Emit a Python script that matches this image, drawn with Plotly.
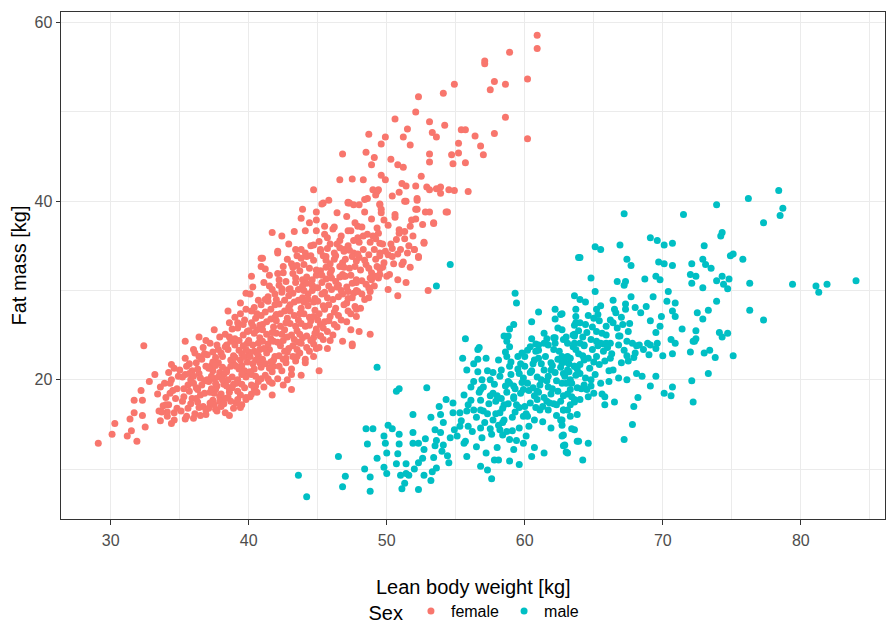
import plotly.graph_objects as go

# (lean body weight [kg], fat mass [kg]) pairs
female = [
    (29.1,12.9),(30.1,13.9),(30.3,15.1),(31.2,13.7),(31.9,13.1),(31.5,14.3),(31.4,15.6),(31.7,16.3),
    (32.3,16.0),(32.5,14.7),(31.7,17.7),(32.3,17.7),(32.2,18.8),(32.8,19.8),(32.4,23.8),(33.2,20.6),
    (33.4,18.4),(33.6,19.2),(33.5,16.5),(33.6,15.4),(34.1,15.9),(34.4,15.1),(34.6,16.3),(34.6,15.5),
    (33.8,17.1),(34.0,18.0),(34.3,18.5),(34.4,20.0),(34.4,21.7),(35.0,21.1),(35.4,20.6),(35.4,24.3),
    (35.7,21.8),(36.4,24.8),(36.0,23.4),(36.4,22.6),(35.4,15.6),(36.0,15.7),(36.9,16.1),(37.6,16.7),
    (38.6,16.0),(39.5,17.2),(39.8,17.8),(40.2,18.4),(40.5,19.3),(41.5,19.8),(41.7,18.3),(42.8,20.0),
    (43.1,18.9),(43.1,20.6),(43.8,20.5),(45.1,21.0),(44.1,21.9),(44.7,22.6),(44.7,24.7),(44.9,25.4),
    (45.9,24.4),(46.8,24.3),(47.5,23.8),(47.4,25.6),(47.8,27.1),(47.1,28.6),(47.2,29.9),(47.8,30.9),
    (46.9,31.6),(48.8,25.1),(45.7,23.5),(48.0,25.4),(47.5,24.0),(45.2,24.9),(47.8,27.9),(47.6,29.7),
    (48.8,29.9),(48.7,29.2),(48.9,31.2),(49.5,31.8),(50.0,31.6),(50.1,30.1),(49.5,32.4),(49.3,32.7),
    (50.8,31.2),(51.4,30.9),(50.8,29.4),(53.0,30.0),(52.7,35.4),(52.0,34.6),(52.3,33.8),(51.0,34.6),
    (51.7,32.6),(51.1,32.9),(53.4,37.6),(52.1,39.1),(52.8,38.8),(54.4,38.8),(45.4,39.8),(47.2,39.9),
    (47.6,39.6),(48.0,39.6),(48.6,40.3),(49.3,41.1),(49.2,40.7),(49.5,39.6),(51.4,40.0),(52.2,40.3),
    (46.8,45.3),(46.6,42.4),(47.5,42.5),(44.7,41.3),(45.8,40.1),(45.3,39.7),(43.9,39.1),(44.9,38.8),
    (43.8,38.1),(44.4,37.6),(44.9,37.9),(46.4,38.7),(47.2,39.8),(41.7,36.5),(42.4,36.1),(43.3,36.6),
    (44.1,36.7),(44.9,36.7),(45.5,37.2),(46.2,37.1),(47.2,36.7),(47.9,37.2),(42.9,35.2),(43.4,34.6),
    (44.7,35.1),(45.2,34.6),(45.7,35.9),(46.6,35.6),(46.9,34.6),(40.9,33.6),(42.1,34.2),(43.8,33.6),
    (45.6,33.8),
    (60.9,58.6),(60.9,57.1),(58.9,56.7),(57.1,55.7),(57.1,55.4),(57.8,53.4),(58.6,53.1),(57.5,52.5),
    (60.2,53.7),(54.9,53.1),(54.1,52.1),(52.3,51.7),(52.1,50.0),(58.6,49.4),(50.6,49.2),(53.1,48.9),
    (54.2,48.5),(51.5,48.1),(55.4,48.0),(55.7,48.0),(53.3,47.7),(53.6,47.2),(57.8,47.6),(56.4,47.3),
    (48.7,47.5),(49.9,47.2),(51.2,47.2),(60.2,47.0),(49.6,46.4),(51.7,46.3),(55.2,46.5),(56.8,46.2),
    (48.5,45.5),(53.1,45.3),(54.7,45.2),(55.2,45.4),(57.0,45.2),(49.1,44.9),(50.3,44.7),(48.9,44.1),
    (50.8,44.1),(51.2,43.8),(53.1,44.4),(54.8,44.2),(55.7,44.3),(49.6,42.9),(49.9,42.4),(52.5,42.8),
    (48.3,42.4),(49.0,41.3),(49.4,41.3),(51.1,42.0),(51.4,41.7),(50.4,40.6),(50.9,41.0),(52.1,41.7),
    (52.9,41.6),(53.1,41.3),(53.6,41.4),(53.9,41.6),(53.9,40.9),(54.5,41.3),(54.9,41.2),(55.9,41.1),
    (51.3,40.0),(52.2,40.1),(52.2,39.1),(54.3,38.8),(53.1,38.8),(52.1,38.0),(52.6,37.4),(53.4,37.5),
    (52.7,35.3),(52.3,33.7),(51.9,36.1),(52.0,34.6),(51.7,37.2),(48.4,40.2),(47.3,39.8),(49.5,39.7),
    (49.6,39.1),(50.6,38.5),(50.9,36.8),(50.7,35.7),(51.3,35.8),(50.4,34.7),(49.5,34.2),(50.1,34.0),
    (38.5,27.7),(39.4,28.6),(39.8,29.7),(40.3,30.4),(40.9,32.7),(41.0,33.6),(42.1,34.4),(40.2,31.6),
    (39.0,27.0),(37.5,25.6),(36.9,24.4),
]

female_core = [
    (34.2,17.2),(34.5,18.8),(34.8,16.8),(34.3,19.6),(34.9,20.4),(34.7,17.9),(34.1,16.4),(34.6,21.3),
    (35.1,16.5),(35.3,18.1),(35.6,19.4),(35.2,20.3),(35.8,17.3),(35.5,15.9),(35.9,21.0),(35.4,22.4),
    (35.7,18.7),(35.2,17.6),(35.8,20.0),(35.6,16.8),
    (36.1,16.2),(36.3,17.5),(36.5,18.3),(36.2,19.1),(36.8,19.9),(36.4,20.7),(36.9,21.5),(36.6,22.3),
    (36.1,23.0),(36.7,17.0),(36.3,18.9),(36.9,16.6),(36.5,20.2),(36.2,21.9),(36.8,18.5),(36.4,16.9),
    (36.7,23.6),(36.0,19.6),
    (37.1,16.8),(37.4,17.7),(37.2,18.6),(37.7,19.3),(37.5,20.1),(37.9,20.8),(37.3,21.6),(37.6,22.5),
    (37.8,23.4),(37.2,24.1),(37.5,17.2),(37.9,18.1),(37.1,19.8),(37.4,21.0),(37.8,21.9),(37.0,22.8),
    (37.6,18.9),(37.3,20.4),(37.7,16.5),(37.9,24.8),(37.4,23.1),(37.6,19.6),
    (38.0,17.0),(38.3,17.9),(38.6,18.6),(38.2,19.5),(38.8,20.3),(38.4,21.1),(38.9,21.8),(38.1,22.6),
    (38.5,23.4),(38.7,24.3),(38.3,25.1),(38.9,16.8),(38.6,19.0),(38.2,20.6),(38.7,22.2),(38.4,23.9),
    (38.0,18.4),(38.8,25.7),(38.5,20.0),(38.1,21.4),(38.9,19.5),(38.6,26.4),(38.3,16.3),
    (39.1,17.4),(39.4,18.3),(39.7,19.1),(39.2,20.0),(39.8,20.8),(39.5,21.6),(39.0,22.5),(39.3,23.3),
    (39.9,24.1),(39.6,25.0),(39.2,25.8),(39.7,26.7),(39.4,27.4),(39.8,18.0),(39.1,19.6),(39.5,22.9),
    (39.9,22.0),(39.3,21.2),(39.6,23.8),(39.0,24.6),(39.8,27.9),(39.4,16.9),(39.7,21.0),(39.2,26.4),
    (40.1,18.1),(40.4,19.0),(40.7,19.8),(40.2,20.6),(40.9,21.4),(40.5,22.2),(40.0,23.1),(40.3,23.9),
    (40.8,24.7),(40.6,25.6),(40.2,26.4),(40.9,27.2),(40.4,28.1),(40.7,28.9),(40.1,29.6),(40.6,18.6),
    (40.3,21.8),(40.8,23.4),(40.5,26.9),(40.0,24.4),(40.9,20.1),(40.4,25.2),(40.7,22.7),(40.2,27.7),
    (41.1,19.2),(41.4,20.1),(41.7,20.9),(41.2,21.8),(41.9,22.6),(41.5,23.4),(41.0,24.3),(41.3,25.1),
    (41.8,25.9),(41.6,26.8),(41.2,27.6),(41.9,28.4),(41.4,29.3),(41.7,30.1),(41.1,30.9),(41.5,31.7),
    (41.8,21.5),(41.3,23.0),(41.6,24.6),(41.0,26.2),(41.9,27.0),(41.4,28.8),(41.7,19.6),(41.2,32.4),
    (42.1,20.1),(42.4,21.0),(42.7,21.9),(42.2,22.7),(42.9,23.5),(42.5,24.4),(42.0,25.2),(42.3,26.0),
    (42.8,26.9),(42.6,27.7),(42.2,28.5),(42.9,29.4),(42.4,30.2),(42.7,31.0),(42.1,31.9),(42.5,32.7),
    (42.8,33.5),(42.3,23.8),(42.6,25.6),(42.0,27.3),(42.9,28.1),(42.4,29.8),(42.7,22.4),(42.2,30.6),
    (42.5,19.4),
    (43.1,21.2),(43.4,22.1),(43.7,23.0),(43.2,23.8),(43.9,24.7),(43.5,25.5),(43.0,26.3),(43.3,27.2),
    (43.8,28.0),(43.6,28.9),(43.2,29.7),(43.9,30.5),(43.4,31.4),(43.7,32.2),(43.1,33.0),(43.5,33.9),
    (43.8,34.6),(43.3,24.5),(43.6,26.7),(43.0,28.4),(43.9,29.2),(43.4,30.9),(43.7,25.1),(43.2,32.6),
    (43.5,22.6),
    (44.1,22.3),(44.4,23.2),(44.7,24.0),(44.2,24.9),(44.9,25.7),(44.5,26.6),(44.0,27.4),(44.3,28.3),
    (44.8,29.1),(44.6,30.0),(44.2,30.8),(44.9,31.7),(44.4,32.5),(44.7,33.4),(44.1,34.2),(44.5,35.0),
    (44.8,27.8),(44.3,29.6),(44.6,31.2),(44.0,32.9),(44.9,23.5),(44.4,26.1),(44.7,28.7),(44.2,33.8),
    (45.1,23.6),(45.4,24.5),(45.7,25.4),(45.2,26.2),(45.9,27.1),(45.5,27.9),(45.0,28.8),(45.3,29.6),
    (45.8,30.5),(45.6,31.3),(45.2,32.2),(45.9,33.0),(45.4,33.9),(45.7,34.7),(45.1,35.5),(45.5,36.3),
    (45.8,28.4),(45.3,30.9),(45.6,32.6),(45.0,26.7),(45.9,35.2),(45.4,25.8),
    (46.1,25.0),(46.4,25.9),(46.7,26.7),(46.2,27.6),(46.9,28.4),(46.5,29.3),(46.0,30.1),(46.3,31.0),
    (46.8,31.8),(46.6,32.7),(46.2,33.5),(46.9,34.4),(46.4,35.2),(46.7,36.1),(46.1,36.9),(46.5,30.6),
    (46.8,33.1),(46.3,28.0),(46.6,34.8),(46.0,32.3),
    (47.1,26.5),(47.4,27.4),(47.7,28.2),(47.2,29.1),(47.9,29.9),(47.5,30.8),(47.0,31.6),(47.3,32.5),
    (47.8,33.3),(47.6,34.2),(47.2,35.0),(47.9,35.9),(47.4,36.7),(47.7,37.6),(47.1,38.3),(47.5,33.8),
    (47.8,31.2),
    (48.1,28.0),(48.4,29.0),(48.7,30.3),(48.2,31.1),(48.9,32.0),(48.5,32.9),(48.0,33.7),(48.3,34.6),
    (48.8,35.4),(48.6,36.3),(48.2,37.1),(48.9,38.0),(48.4,38.8),(48.7,34.0),
    (49.1,30.5),(49.4,31.4),(49.7,32.6),(49.2,33.5),(49.9,34.4),(49.5,35.3),(49.0,36.1),(49.3,37.0),
    (49.8,37.9),(49.6,38.7),(49.2,35.8),
    (50.2,31.8),(50.5,33.0),(50.8,34.1),(50.3,35.2),(50.9,36.4),(50.1,37.3),(50.6,38.2),(50.4,33.8),
    (51.2,33.2),(51.6,35.0),(51.3,36.6),(51.8,37.9),(51.5,34.2),
]

female_core_extra = [
    (35.3,19.0),(35.7,20.7),(35.9,17.9),(36.3,21.2),(36.6,19.4),(36.2,17.9),(36.8,22.9),(36.5,16.0),
    (36.0,20.4),(35.5,21.5),
    (37.2,17.4),(37.5,18.5),(37.8,20.3),(37.1,21.3),(37.4,22.0),(37.7,23.9),(37.0,20.0),(37.9,17.6),
    (37.3,19.0),(37.6,21.6),
    (38.2,17.3),(38.5,18.0),(38.8,19.1),(38.1,20.0),(38.4,20.9),(38.7,21.5),(38.0,23.0),(38.3,23.7),
    (38.6,24.8),(38.9,22.7),(38.4,19.3),(38.7,17.6),
    (39.2,18.7),(39.5,19.5),(39.8,20.3),(39.1,21.5),(39.4,22.2),(39.7,22.6),(39.0,23.9),(39.3,24.4),
    (39.6,26.2),(39.9,25.4),(39.5,20.6),(39.8,23.4),(39.2,17.8),
    (40.2,19.4),(40.5,20.4),(40.8,21.9),(40.1,22.6),(40.4,23.2),(40.7,24.1),(40.0,25.5),(40.3,26.0),
    (40.6,27.4),(40.9,28.4),(40.4,21.2),(40.8,26.1),(40.1,20.9),(40.6,23.0),
    (41.2,20.5),(41.5,21.3),(41.8,22.2),(41.1,23.5),(41.4,24.0),(41.7,25.3),(41.0,25.6),(41.3,26.5),
    (41.6,27.9),(41.9,29.6),(41.2,29.0),(41.5,30.5),(41.8,24.3),(41.0,22.3),(41.6,22.0),
    (42.2,21.5),(42.5,22.3),(42.8,23.1),(42.1,24.2),(42.4,25.1),(42.7,26.4),(42.0,26.6),(42.3,27.4),
    (42.6,28.9),(42.9,30.1),(42.2,31.2),(42.5,32.0),(42.8,24.8),(42.0,29.0),(42.6,23.2),
    (43.2,22.6),(43.5,23.4),(43.8,24.1),(43.1,25.0),(43.4,26.0),(43.7,27.4),(43.0,27.7),(43.3,28.7),
    (43.6,30.1),(43.9,31.2),(43.2,31.9),(43.5,32.8),(43.8,26.3),(43.0,30.2),(43.6,24.2),
    (44.2,23.6),(44.5,24.4),(44.8,25.2),(44.1,26.0),(44.4,27.0),(44.7,27.1),(44.0,28.7),(44.3,29.0),
    (44.6,30.6),(44.9,32.3),(44.2,31.5),(44.5,33.9),(44.8,30.3),(44.0,30.0),
    (45.2,24.9),(45.5,26.5),(45.8,26.6),(45.1,27.4),(45.4,28.3),(45.7,29.2),(45.0,30.3),(45.3,31.7),
    (45.6,33.4),(45.9,31.9),(45.2,34.4),(45.5,29.8),
    (46.2,26.2),(46.5,27.2),(46.8,29.6),(46.1,29.0),(46.4,30.4),(46.7,30.0),(46.0,31.4),(46.3,33.9),
    (46.6,31.5),(46.9,32.6),(46.2,34.2),
    (47.2,27.7),(47.5,29.2),(47.8,30.0),(47.1,30.4),(47.4,31.7),(47.7,32.7),(47.0,33.5),(47.3,34.5),
    (47.6,35.6),(47.9,34.1),
    (48.2,29.6),(48.5,30.7),(48.8,31.4),(48.1,32.3),(48.4,33.4),(48.7,32.5),(48.0,35.4),(48.3,36.1),
    (49.2,31.6),(49.5,33.9),(49.8,33.1),(49.1,34.6),(49.4,36.4),(49.7,35.2),
    (33.9,19.6),(34.2,20.8),(33.7,16.4),(34.8,19.0),(34.0,17.2),
]

male = [
    (54.6,32.9),(53.6,30.5),(63.9,33.7),(59.3,29.7),(59.4,28.6),(61.0,27.6),(60.5,26.5),(59.2,26.2),
    (58.9,25.7),(58.5,24.9),(58.7,24.3),(55.7,24.6),(56.7,23.6),(62.2,27.9),(62.6,27.3),(62.2,26.8),
    (63.6,29.4),(63.7,27.9),(63.7,27.1),(63.7,26.4),(63.6,25.1),(62.7,25.6),(62.2,24.7),(60.8,24.0),
    (61.4,24.1),
    (49.3,21.4),(56.6,23.4),(55.5,22.4),(56.3,21.8),(55.8,21.1),(56.6,22.3),(58.1,22.2),(58.8,24.9),
    (58.9,23.7),(58.7,22.6),(50.7,18.7),(50.9,19.0),(52.9,19.1),(51.9,16.1),(53.2,15.8),(48.5,14.5),
    (49.0,14.5),(48.6,12.8),(50.1,14.9),(50.4,14.5),(49.8,13.7),(50.9,13.9),(49.9,12.9),(50.9,12.8),
    (50.0,11.8),(50.8,11.7),(51.9,14.1),(51.9,12.9),(52.3,12.9),(52.8,13.4),(52.7,12.2),(52.6,11.2),
    (53.4,11.3),(46.5,11.4),(43.6,9.3),(44.2,6.9),(47.0,9.2),(46.8,8.0),(48.4,10.0),(48.8,9.1),
    (48.8,7.5),(49.3,11.2),(49.8,10.2),(50.0,9.5),(51.0,9.3),(51.4,9.5),(51.6,9.3),(50.7,10.6),
    (51.4,10.6),(51.3,8.4),(51.1,7.8),(52.3,7.7),(52.3,10.7),(52.0,10.0),(52.7,9.3),(53.2,8.7),
    (53.3,9.7),(53.6,10.1),(53.5,12.6),(53.5,14.4),(53.8,17.0),(53.9,16.1),(54.3,17.8),(54.8,17.4),
    (54.0,12.0),(54.5,10.7),(54.1,12.7),(54.6,13.5),(55.1,13.7),(54.9,14.4),(55.3,14.8),(55.6,12.9),
    (55.3,16.3),(55.8,16.5),(55.6,18.3),(56.1,19.2),(55.8,11.4),(56.3,16.6),(56.8,16.6),(56.8,14.6),
    (56.9,13.5),(56.5,12.5),(57.2,11.8),(56.8,10.3),(57.3,9.9),(57.6,8.9),(57.8,11.0),(58.1,11.0),
    (58.9,10.9),(59.6,10.5),(56.9,20.0),(57.5,20.0),(56.8,18.9),(57.7,18.5),(57.0,16.5),(57.7,15.5),
    (58.2,16.3),(58.2,14.4),(58.9,13.3),(59.2,12.2),(59.9,12.9),(60.7,12.4),(61.4,11.8),(60.5,11.4),
    (57.9,17.6),(58.5,17.2),(59.2,18.1),(59.9,18.9),(58.9,19.6),(59.6,20.7),(60.0,21.5),(60.7,22.2),
    (60.4,23.7),(61.0,23.9),(62.1,24.7),(63.5,25.0),(60.9,18.7),(61.6,17.6),(62.3,17.2),(62.8,16.6),
    (62.6,15.5),(63.3,15.9),(62.8,13.8),(62.9,12.7),(63.1,11.8),(63.6,14.4),(63.8,13.1),(63.6,17.8),
    (63.3,18.9),(63.1,21.1),(62.7,22.6),(63.6,21.5),(61.9,21.9),(61.7,20.4),
    (78.4,41.2),(76.2,40.3),(73.9,39.6),(78.7,39.2),(78.5,38.4),(77.3,37.6),(67.2,38.6),(71.5,38.5),
    (74.3,36.5),(74.2,36.1),(69.1,35.9),(69.6,35.6),(70.1,35.1),(70.7,35.3),(66.9,35.1),(65.1,34.9),
    (65.5,34.6),(73.0,35.0),(64.0,33.7),(74.9,33.9),(75.1,34.1),(75.8,33.5),(67.4,33.5),(67.7,32.8),
    (69.7,33.2),(70.1,33.0),(70.7,32.8),(72.1,33.0),(72.9,33.5),(73.1,32.9),(73.5,32.5),(64.8,31.4),
    (66.7,31.0),(67.3,31.0),(67.2,30.6),(68.7,31.3),(69.5,31.6),(69.8,31.2),(72.0,31.8),(72.4,31.6),
    (72.1,30.8),(73.9,31.1),(74.3,31.6),(74.8,31.3),(74.4,30.7),(74.7,30.2),(72.9,30.3),(76.3,30.8),
    (79.4,30.7),(81.1,30.5),(81.3,29.8),(81.9,30.7),(84.0,31.1),(65.1,29.9),(70.4,29.9),(64.0,29.0),
    (64.4,28.7),(66.4,28.9),(67.3,28.5),(67.7,29.3),(68.8,28.2),(69.3,29.3),(70.3,28.8),(70.9,28.6),
    (73.9,28.8),(65.0,26.9),(65.2,27.9),(65.5,28.3),(66.2,26.7),(66.6,27.5),(67.3,27.9),(68.0,28.1),
    (68.4,27.5),(69.9,27.1),(70.7,27.7),(70.9,27.1),(72.5,27.5),(72.9,26.8),(73.3,27.8),(76.3,27.8),
    (77.3,26.7),(71.4,25.7),(72.4,25.5),(74.1,25.3),(74.7,25.2),(74.3,24.8),(72.3,24.3),(67.1,26.2),
    (67.5,25.4),(69.1,26.6),(69.8,26.0),(69.5,25.3),(70.6,24.5),(70.9,24.1),(69.6,24.1),(62.7,27.4),
    (63.6,24.9),(63.1,24.1),(64.3,23.8),(65.2,24.3),(65.7,24.0),(66.2,24.1),(66.8,24.9),(67.4,24.3),
    (68.1,23.8),(68.9,24.1),
    (72.4,24.6),(72.2,24.3),(75.1,22.7),(73.8,22.5),(73.0,23.0),(73.4,23.3),(72.0,23.1),(70.7,22.9),
    (70.0,22.7),(73.3,20.7),(72.1,19.9),(69.5,20.4),(70.7,19.2),(70.6,18.2),(70.1,18.5),(72.2,17.5),
    (69.1,19.3),(68.2,18.0),(67.9,17.0),(67.8,15.0),(67.2,13.3),(66.5,17.5),(65.6,18.4),(65.8,18.1),
    (65.8,17.2),(64.6,12.9),(64.2,11.0),(63.9,13.1),(63.0,11.9),(62.8,12.6),(62.7,13.7),(63.4,14.5),
    (62.8,16.6),(62.7,15.5),(63.8,16.1),(63.6,17.5),(64.0,17.8),(64.6,18.1),(65.0,18.5),(64.5,18.9),
    (64.8,19.3),(67.4,20.0),(68.1,20.7),(68.5,20.4),(67.5,22.1),(67.0,21.9),(66.4,21.1),(66.1,19.8),
    (66.8,20.2),(69.0,22.8),(69.5,23.5),(69.1,23.9),(68.3,23.9),(67.8,24.1),(68.6,23.4),(68.0,23.0),
    (65.2,22.6),(65.8,22.1),(66.2,22.4),(64.3,22.2),(63.6,21.5),(64.0,20.7),(63.3,20.0),(62.8,20.7),
    (62.7,21.9),(63.1,22.6),(63.7,23.4),(64.0,24.1),(64.8,24.5),(65.5,24.1),(65.9,25.0),(66.9,24.9),
]

male_core = [
    (57.1,15.2),(57.4,17.3),(57.8,19.5),(57.3,21.0),(57.6,13.9),(57.9,16.2),(57.2,22.4),(57.5,18.2),
    (58.1,14.9),(58.4,16.8),(58.7,18.6),(58.2,20.4),(58.9,21.5),(58.5,15.5),(58.3,17.9),(58.8,19.8),
    (58.6,23.1),(58.0,12.4),(58.4,13.8),
    (59.1,15.8),(59.4,17.2),(59.7,18.5),(59.2,19.3),(59.9,20.2),(59.5,21.2),(59.0,22.0),(59.3,16.4),
    (59.8,23.0),(59.6,14.6),(59.2,17.9),(59.7,21.8),(59.4,13.2),(59.9,15.9),
    (60.1,16.2),(60.4,17.4),(60.7,18.2),(60.2,19.6),(60.9,20.3),(60.5,21.0),(60.0,22.6),(60.3,14.8),
    (60.8,16.9),(60.6,19.1),(60.2,23.3),(60.9,17.8),(60.4,20.8),(60.7,15.5),(60.1,13.7),(60.5,24.6),
    (61.1,16.6),(61.4,18.0),(61.7,19.2),(61.2,20.0),(61.9,21.1),(61.5,22.6),(61.0,23.3),(61.3,15.3),
    (61.8,17.4),(61.6,19.9),(61.2,21.8),(61.9,14.6),(61.4,25.2),(61.7,23.9),(61.0,18.6),
    (62.1,17.3),(62.4,18.7),(62.7,19.6),(62.2,20.8),(62.9,22.0),(62.5,23.2),(62.0,19.0),(62.3,16.0),
    (62.8,18.2),(62.6,21.4),(62.2,24.1),(62.9,20.4),(62.4,25.8),(62.7,14.9),
    (63.1,18.4),(63.4,19.6),(63.7,20.5),(63.2,21.8),(63.9,22.9),(63.5,23.7),(63.0,24.8),(63.3,17.2),
    (63.8,19.1),(63.6,26.1),(63.2,20.9),(63.9,25.5),
    (64.1,19.0),(64.4,20.2),(64.7,21.3),(64.2,22.7),(64.9,23.4),(64.5,25.3),(64.0,26.4),(64.3,23.9),
    (64.8,20.0),(64.6,27.2),
    (65.1,20.6),(65.4,21.7),(65.7,23.2),(65.2,25.4),(65.9,26.0),(65.5,19.6),(65.3,27.3),
    (66.3,22.9),(66.7,25.8),(67.2,23.3),(67.6,26.3),(66.5,27.9),(67.9,22.5),
    (55.4,15.4),(55.9,17.2),(56.2,14.2),(56.5,15.8),(56.8,17.7),(56.3,19.8),(55.7,13.1),(56.6,20.9),
    (53.6,13.2),(54.1,15.2),(54.4,11.5),(54.8,16.3),(53.9,14.1),
]

male_core_extra = [
    (57.3,16.2),(57.7,20.8),(58.0,18.2),(58.3,21.1),(58.6,19.3),(58.4,15.2),(58.8,17.3),(59.0,20.6),
    (59.3,19.0),(59.6,16.9),(59.1,14.3),(59.5,22.6),(59.8,19.7),(60.0,17.0),(60.3,18.8),(60.6,21.8),
    (60.2,15.9),(60.8,23.2),(61.1,19.4),(61.4,21.1),(61.7,16.6),(61.0,22.4),(61.3,17.0),(61.6,24.6),
    (61.9,18.4),(62.0,21.6),(62.3,19.9),(62.6,17.6),(62.1,23.4),(62.8,24.5),(62.4,22.3),(63.0,19.6),
    (63.3,22.4),(63.6,24.1),(63.1,16.6),(63.8,21.2),(63.4,18.1),(64.0,21.7),(64.3,19.4),(64.6,22.4),
    (64.2,24.8),(64.9,25.9),(64.4,26.2),(65.0,22.0),(65.3,23.8),(65.6,25.2),(65.9,24.1),(65.4,26.6),
    (66.0,23.6),(66.4,26.4),(66.8,23.9),(66.1,21.0),(67.0,27.0),(67.4,22.7),(56.7,18.6),(56.1,17.7),
    (57.0,19.2),(55.9,14.8),(57.5,14.5),(58.7,14.2),
]

groups = {
    "female": female + female_core + female_core_extra,
    "male": male + male_core + male_core_extra,
}
colors = {"female": "#F8766D", "male": "#00BFC4"}
x_ticks = [30, 40, 50, 60, 70, 80]
x_minor = [35, 45, 55, 65, 75, 85]
y_ticks = [20, 40, 60]
y_minor = [10, 30, 50]

FONT = "Liberation Sans, Arial, sans-serif"

fig = go.Figure()
for name, pts in groups.items():
    fig.add_trace(go.Scatter(
        x=[p[0] for p in pts], y=[p[1] for p in pts],
        mode="markers", name=name,
        marker=dict(color=colors[name], size=7, line=dict(width=0)),
    ))

axis_common = dict(
    showline=True, mirror=True, linecolor="#333333", linewidth=1,
    ticks="outside", ticklen=4.5, tickwidth=1.1, tickcolor="#333333",
    showgrid=True, gridcolor="#EBEBEB", gridwidth=1.1,
    zeroline=False, automargin=False,
    tickfont=dict(family=FONT, size=16, color="#4D4D4D"),
)

fig.update_layout(
    width=886, height=623,
    margin=dict(l=61, r=1, t=12, b=104, autoexpand=False),
    paper_bgcolor="white", plot_bgcolor="white",
    font=dict(family=FONT, color="black"),
    xaxis=dict(
        range=[26.4, 86.1], tickvals=x_ticks,
        minor=dict(tickvals=x_minor, showgrid=True, gridcolor="#EBEBEB", gridwidth=0.55, ticks=""),
        ticklabelstandoff=2,
        **axis_common,
    ),
    yaxis=dict(
        range=[4.4, 61.2], tickvals=y_ticks,
        minor=dict(tickvals=y_minor, showgrid=True, gridcolor="#EBEBEB", gridwidth=0.55, ticks=""),
        title=dict(text="Fat mass [kg]", font=dict(family=FONT, size=20, color="black"), standoff=2),
        **axis_common,
    ),
    legend=dict(
        orientation="h", x=0.503, xanchor="center",
        yref="container", y=11 / 623, yanchor="middle",
        valign="middle",
        title=dict(text="Sex", font=dict(family=FONT, size=20, color="black")),
        font=dict(family=FONT, size=16, color="black"),
    ),
    annotations=[dict(
        text="Lean body weight [kg]", xref="paper", yref="paper", x=0.5, y=0,
        xanchor="center", yanchor="middle", yshift=-68, showarrow=False,
        font=dict(family=FONT, size=20, color="black"),
    )],
    showlegend=True,
)

fig.write_html(
    "out.html",
    config={"displayModeBar": False},
    post_script="document.body.style.margin='0';document.body.style.overflow='hidden';",
)
